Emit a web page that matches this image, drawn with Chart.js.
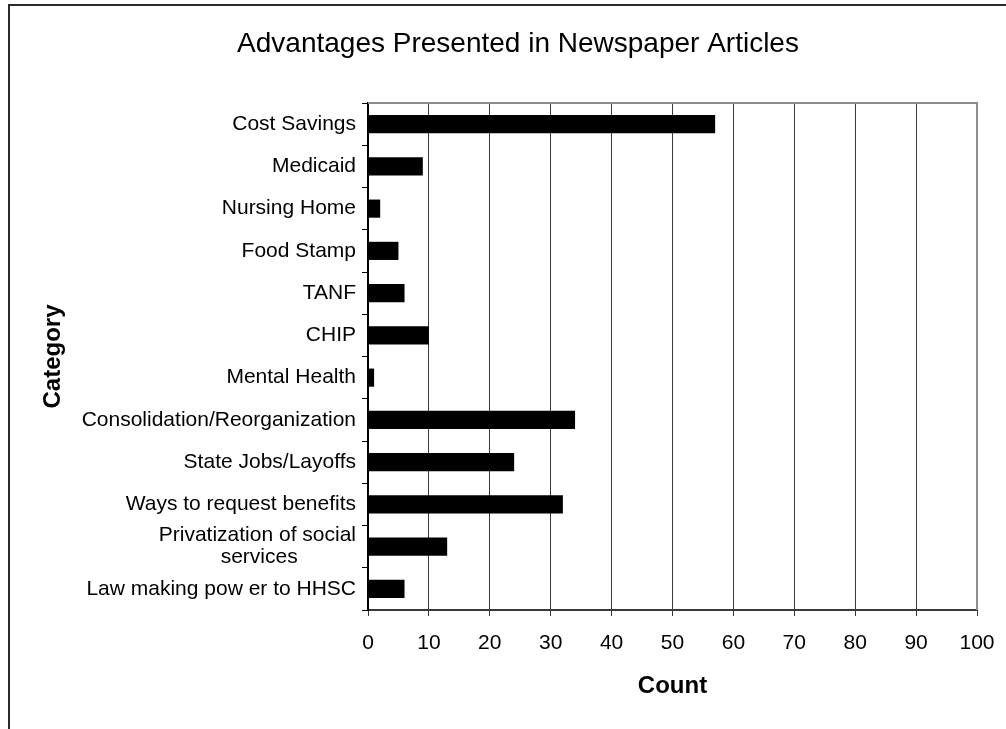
<!DOCTYPE html>
<html>
<head>
<meta charset="utf-8">
<script src="https://cdn.jsdelivr.net/npm/chart.js@4.4.1/dist/chart.umd.min.js"></script>
<style>
html,body{margin:0;padding:0;background:#ffffff;}
#wrap{width:1006px;height:729px;position:relative;}
</style>
</head>
<body>
<div id="wrap"><canvas id="c" width="1006" height="729"></canvas></div>
<script>
// ---- data ----
const categories = [
  "Cost Savings",
  "Medicaid",
  "Nursing Home",
  "Food Stamp",
  "TANF",
  "CHIP",
  "Mental Health",
  "Consolidation/Reorganization",
  "State Jobs/Layoffs",
  "Ways to request benefits",
  "Privatization of social services",
  "Law making pow er to HHSC"
];
const counts = [57, 9, 2, 5, 6, 10, 1, 34, 24, 32, 13, 6];
const countAxisMin = 0;
const countAxisMax = 100;
const countAxisStep = 10;
const chartTitle = "Advantages Presented in Newspaper Articles";
const xTitle = "Count";
const yTitle = "Category";

// ---- styling ----
const FONT = '"Liberation Sans", Arial, Helvetica, sans-serif';
const LABEL_SIZE = 21;

const measureCtx = document.createElement('canvas').getContext('2d');
measureCtx.font = LABEL_SIZE + 'px ' + FONT;
function wrapLabel(label) {
  const maxW = 280;
  if (measureCtx.measureText(label).width <= maxW || label.indexOf(' ') < 0) return label;
  const words = label.split(' ');
  const lines = [];
  let cur = '';
  for (const w of words) {
    const t = cur ? cur + ' ' + w : w;
    if (measureCtx.measureText(t).width > 240 && cur) { lines.push(cur); cur = w; }
    else cur = t;
  }
  if (cur) lines.push(cur);
  // centre each line within the block (lines are drawn right-aligned)
  const widths = lines.map(l => measureCtx.measureText(l).width);
  const widest = Math.max(...widths);
  const sp = measureCtx.measureText('\u00a0').width;
  return lines.map((l, i) => {
    const n = Math.round((widest - widths[i]) / 2 / sp);
    return l + '\u00a0'.repeat(n);
  });
}

const framePlugin = {
  id: 'frame',
  beforeDraw(chart) {
    const ctx = chart.ctx;
    ctx.save();
    ctx.fillStyle = '#ffffff';
    ctx.fillRect(0, 0, chart.width, chart.height);
    ctx.strokeStyle = '#2b2b2b';
    ctx.lineWidth = 2;
    ctx.beginPath();
    ctx.moveTo(9, chart.height);
    ctx.lineTo(9, 5);
    ctx.lineTo(chart.width, 5);
    ctx.stroke();
    ctx.restore();
  },
  afterDraw(chart) {
    const a = chart.chartArea;
    const ctx = chart.ctx;
    ctx.save();
    ctx.strokeStyle = '#8c8c8c';
    ctx.lineWidth = 2;
    ctx.beginPath();
    ctx.moveTo(a.left, a.top);
    ctx.lineTo(a.right, a.top);
    ctx.lineTo(a.right, a.bottom);
    ctx.stroke();
    ctx.restore();
  }
};

new Chart(document.getElementById('c'), {
  type: 'bar',
  data: {
    labels: categories,
    datasets: [{
      label: xTitle,
      data: counts,
      backgroundColor: '#000000',
      borderWidth: 0,
      barPercentage: 0.43,
      categoryPercentage: 1.0
    }]
  },
  options: {
    indexAxis: 'y',
    responsive: false,
    animation: false,
    devicePixelRatio: 1,
    layout: { padding: { left: 59, right: 29, top: 0, bottom: 0 } },
    plugins: {
      legend: { display: false },
      tooltip: { enabled: false },
      title: {
        display: true,
        text: chartTitle,
        color: '#000000',
        font: { family: FONT, size: 28, weight: 'normal', lineHeight: 1 },
        padding: { top: 30, bottom: 45 }
      }
    },
    scales: {
      x: {
        type: 'linear',
        min: countAxisMin,
        max: countAxisMax,
        afterFit(scale) { scale.height = 119; scale.paddingRight = 0; scale.paddingLeft = 0; },
        ticks: {
          stepSize: countAxisStep,
          color: '#000000',
          font: { family: FONT, size: LABEL_SIZE, lineHeight: 1.2 },
          padding: 15,
          maxRotation: 0
        },
        grid: {
          color: '#3a3a3a',
          lineWidth: 1,
          drawTicks: true,
          tickLength: 6,
          tickColor: '#3a3a3a'
        },
        border: { display: true, color: '#3a3a3a', width: 2 },
        title: {
          display: true,
          text: xTitle,
          color: '#000000',
          font: { family: FONT, size: 24, weight: 'bold', lineHeight: 1 },
          padding: { top: 0, bottom: 31 }
        }
      },
      y: {
        type: 'category',
        afterFit(scale) { scale.width = 309; },
        ticks: {
          color: '#000000',
          font: { family: FONT, size: LABEL_SIZE, lineHeight: 1.05 },
          padding: 6,
          autoSkip: false,
          callback: function(value) { return wrapLabel(this.getLabelForValue(value)); }
        },
        grid: {
          drawOnChartArea: false,
          drawTicks: true,
          tickLength: 6,
          tickColor: '#000000',
          offset: true
        },
        border: { display: true, color: '#000000', width: 2 },
        title: {
          display: true,
          text: yTitle,
          color: '#000000',
          font: { family: FONT, size: 24, weight: 'bold', lineHeight: 1 },
          padding: { top: -18, bottom: 0 }
        }
      }
    }
  },
  plugins: [framePlugin]
});
</script>
</body>
</html>
